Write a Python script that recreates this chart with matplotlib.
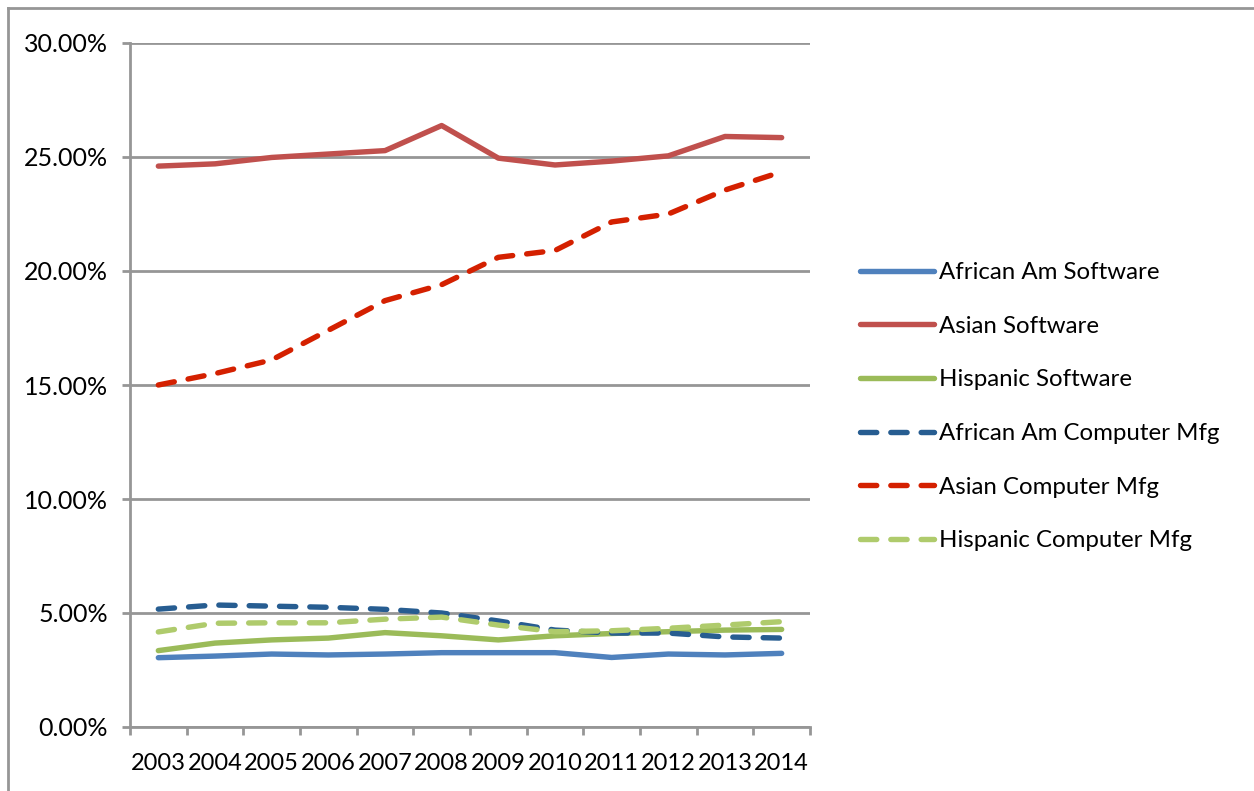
import matplotlib.pyplot as plt
from matplotlib.ticker import FuncFormatter, FixedLocator
from matplotlib.lines import Line2D

plt.rcParams['font.family'] = ['Lato', 'DejaVu Sans']

years = ['2003', '2004', '2005', '2006', '2007', '2008',
         '2009', '2010', '2011', '2012', '2013', '2014']

# shares of workforce, percent
african_am_software = [3.04, 3.11, 3.20, 3.16, 3.20, 3.26, 3.26, 3.26, 3.05, 3.20, 3.16, 3.23]
asian_software = [24.60, 24.70, 24.98, 25.13, 25.28, 26.38, 24.95, 24.65, 24.82, 25.05, 25.90, 25.85]
hispanic_software = [3.35, 3.68, 3.82, 3.90, 4.14, 4.00, 3.82, 4.00, 4.10, 4.18, 4.25, 4.28]
african_am_mfg = [5.17, 5.35, 5.30, 5.25, 5.16, 5.00, 4.65, 4.25, 4.12, 4.12, 3.95, 3.90]
asian_mfg = [15.00, 15.50, 16.10, 17.40, 18.70, 19.40, 20.60, 20.90, 22.15, 22.50, 23.55, 24.35]
hispanic_mfg = [4.17, 4.55, 4.57, 4.57, 4.73, 4.82, 4.47, 4.18, 4.22, 4.33, 4.47, 4.62]

series = [
    ('African Am Software', african_am_software, '#4F81BD', '-'),
    ('Asian Software', asian_software, '#C0504D', '-'),
    ('Hispanic Software', hispanic_software, '#9BBB59', '-'),
    ('African Am Computer Mfg', african_am_mfg, '#275D91', '--'),
    ('Asian Computer Mfg', asian_mfg, '#D42000', '--'),
    ('Hispanic Computer Mfg', hispanic_mfg, '#AFCB6C', '--'),
]

grey = '#969696'
fig = plt.figure(figsize=(12.54, 7.91), dpi=100)
ax = fig.add_axes([130 / 1254, 1 - 727 / 791, 680 / 1254, 684 / 791])

x = list(range(len(years)))
handles = []
for label, vals, color, style in series:
    ln, = ax.plot(x, [v / 100 for v in vals], color=color, lw=3.9,
                  solid_capstyle='round', dash_capstyle='round', label=label)
    if style == '--':
        ln.set_dashes((3.0, 2.6))
    handles.append(ln)

ax.set_xlim(-0.5, len(years) - 0.5)
ax.set_ylim(0, 0.30)
ax.set_yticks([0, 0.05, 0.10, 0.15, 0.20, 0.25, 0.30])
ax.yaxis.set_major_formatter(FuncFormatter(lambda v, p: f'{v * 100:.2f}%'))
ax.set_xticks(x)
ax.set_xticklabels(years)
ax.xaxis.set_minor_locator(FixedLocator([i - 0.5 for i in range(len(years) + 1)]))

ax.grid(axis='y', color=grey, lw=2)
ax.set_axisbelow(True)
for side in ['top', 'right']:
    ax.spines[side].set_visible(False)
for side in ['left', 'bottom']:
    ax.spines[side].set_color(grey)
    ax.spines[side].set_linewidth(2)

ax.tick_params(axis='y', length=6, width=2, color=grey, pad=10, labelsize=18)
ax.tick_params(axis='x', which='major', length=0, pad=19, labelsize=17)
ax.tick_params(axis='x', which='minor', length=6, width=2, color=grey)

leg = ax.legend(handles=handles, loc='upper left', bbox_to_anchor=(1.06, 0.694),
                frameon=False, fontsize=17.3, handlelength=3.05, handletextpad=0.2,
                labelspacing=1.36, borderaxespad=0)

# outer chart frame (top and left edges)
fig.add_artist(Line2D([8 / 1254, 1], [1 - 8 / 791, 1 - 8 / 791], color=grey, lw=2))
fig.add_artist(Line2D([8 / 1254, 8 / 1254], [0, 1 - 8 / 791], color=grey, lw=2))

fig.savefig('out.png', dpi=100)
